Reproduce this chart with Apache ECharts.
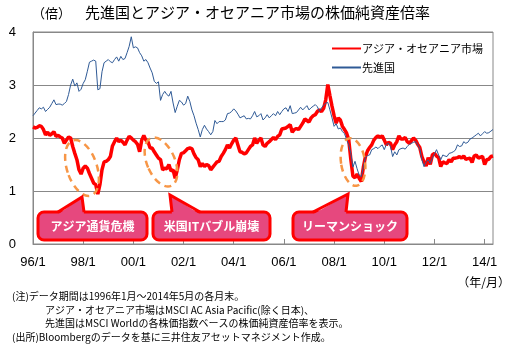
<!DOCTYPE html>
<html><head><meta charset="utf-8">
<script src="https://cdn.jsdelivr.net/npm/echarts@6/dist/echarts.min.js"></script>
<style>html,body{margin:0;padding:0;background:#fff}#c{width:517px;height:359px}</style>
</head><body><div id="c"></div>
<script>
// Monthly end values, 1996/1 .. 2014/5
const startYear = 1996, startMonth = 1, monthCount = 221;
const tickLabels = ['96/1','98/1','00/1','02/1','04/1','06/1','08/1','10/1','12/1','14/1'];
const seriesNames = ['アジア・オセアニア市場', '先進国'];
const asiaPacific = [
 2.21,2.19,2.20,2.23,2.22,2.16,2.06,2.11,2.05,2.08,2.12,2.03, // 1996
 2.05,2.02,2.00,1.90,1.96,2.02,2.00,1.84,1.71,1.59,1.40,1.32, // 1997
 1.43,1.47,1.43,1.33,1.24,1.15,1.12,0.94,1.12,1.40,1.55,1.56, // 1998
 1.59,1.65,1.85,1.93,2.00,1.93,1.96,1.92,1.87,1.96,2.03,2.00, // 1999
 1.96,1.93,1.88,1.74,1.96,2.05,1.96,1.93,1.81,1.81,1.74,1.68, // 2000
 1.62,1.59,1.40,1.43,1.42,1.50,1.38,1.40,1.24,1.40,1.59,1.71, // 2001
 1.72,1.76,1.80,1.81,1.80,1.70,1.63,1.59,1.46,1.52,1.46,1.50, // 2002
 1.48,1.40,1.45,1.50,1.55,1.56,1.65,1.71,1.78,1.87,1.81,1.89, // 2003
 1.96,2.00,1.87,1.74,1.73,1.70,1.72,1.78,1.84,1.87,2.00,1.90, // 2004
 1.96,2.00,1.87,1.84,1.90,1.93,1.97,2.01,1.97,2.03,2.06,2.17, // 2005
 2.18,2.19,2.22,2.25,2.11,2.16,2.18,2.16,2.22,2.28,2.36,2.33, // 2006
 2.30,2.38,2.42,2.44,2.50,2.53,2.50,2.56,2.72,3.01,2.80,2.60, // 2007
 2.42,2.28,2.38,2.34,2.22,2.16,2.09,1.97,1.60,1.28,1.25,1.32, // 2008
 1.24,1.18,1.45,1.65,1.76,1.82,1.87,1.96,2.01,2.04,2.01,2.04, // 2009
 1.96,1.87,1.92,1.90,1.78,1.87,1.93,2.04,1.98,1.98,2.01,1.93, // 2010
 1.90,1.95,2.00,1.96,1.88,1.82,1.65,1.55,1.47,1.63,1.50,1.68, // 2011
 1.71,1.66,1.63,1.46,1.55,1.53,1.52,1.59,1.55,1.62,1.62,1.63, // 2012
 1.65,1.62,1.66,1.60,1.61,1.62,1.54,1.66,1.68,1.62,1.64,1.65, // 2013
 1.50,1.59,1.60,1.65,1.66                                     // 2014
];
const developed = [
 2.42,2.47,2.52,2.57,2.55,2.58,2.50,2.54,2.58,2.65,2.72,2.63, // 1996
 2.64,2.64,2.62,2.65,2.69,2.82,3.00,3.11,2.98,3.04,2.88,2.92, // 1997
 3.03,3.10,3.26,3.43,3.45,3.47,3.45,2.91,2.93,3.25,3.42,3.45, // 1998
 3.48,3.44,3.42,3.48,3.53,3.45,3.54,3.48,3.50,3.61,3.73,3.91, // 1999
 3.70,3.72,3.70,3.61,3.55,3.45,3.48,3.42,3.32,3.23,3.07,3.03, // 2000
 3.06,2.71,2.82,2.88,2.82,2.79,2.88,2.66,2.48,2.60,2.71,2.68, // 2001
 2.62,2.65,2.79,2.69,2.53,2.42,2.28,2.16,2.02,2.16,2.24,2.17, // 2002
 2.12,2.06,2.12,2.33,2.27,2.31,2.31,2.31,2.34,2.46,2.47,2.50, // 2003
 2.55,2.51,2.45,2.38,2.40,2.42,2.36,2.37,2.36,2.42,2.50,2.40, // 2004
 2.42,2.46,2.34,2.38,2.44,2.38,2.42,2.46,2.42,2.50,2.44,2.50, // 2005
 2.55,2.57,2.50,2.61,2.46,2.47,2.48,2.53,2.58,2.53,2.57,2.61, // 2006
 2.53,2.57,2.60,2.63,2.59,2.50,2.57,2.62,2.66,2.67,2.53,2.38, // 2007
 2.22,2.27,2.17,2.19,2.12,2.08,1.97,1.87,1.71,1.45,1.56,1.42, // 2008
 1.30,1.27,1.46,1.63,1.67,1.68,1.78,1.80,1.83,1.80,1.84,1.87, // 2009
 1.78,1.88,1.90,1.84,1.65,1.74,1.68,1.78,1.80,1.81,1.79,1.84, // 2010
 1.88,1.90,1.92,1.93,1.87,1.80,1.59,1.46,1.55,1.59,1.52,1.62, // 2011
 1.70,1.78,1.68,1.59,1.68,1.66,1.65,1.71,1.72,1.74,1.77,1.87, // 2012
 1.84,1.85,1.93,1.90,1.92,1.98,2.00,2.03,2.06,2.09,2.04,2.08, // 2013
 2.12,2.09,2.10,2.13,2.16                                     // 2014
];
const annotations = ['アジア通貨危機', '米国ITバブル崩壊', 'リーマンショック'];
const notes = [
 '(注)データ期間は1996年1月～2014年5月の各月末。',
 'アジア・オセアニア市場はMSCI AC Asia Pacific(除く日本)、',
 '先進国はMSCI Worldの各株価指数ベースの株価純資産倍率を表示。',
 '(出所)Bloombergのデータを基に三井住友アセットマネジメント作成。'
];

const categories = [];
for (let i = 0; i < monthCount; i++) {
  const y = startYear + Math.floor((startMonth - 1 + i) / 12);
  const m = (startMonth - 1 + i) % 12 + 1;
  categories.push(String(y % 100).padStart(2, '0') + '/' + m);
}
const isTick = (idx) => tickLabels.indexOf(categories[idx]) >= 0;

const JP = '"Noto Sans CJK JP", sans-serif';
const NOTE = '"Liberation Sans Narrow", "Noto Sans CJK JP", sans-serif';
const NUM = '"Liberation Sans", Arial, sans-serif';
const PINK = '#E6487E', RED = '#FF0000', ORANGE = '#F79646', BLUE = '#2F5A96';

function callout(box, ptr, text) {
  const [x, y, w, h] = box;
  const [bl, tx, ty, br] = ptr;
  return {
    type: 'group',
    children: [
      { type: 'rect', shape: { x, y, width: w, height: h, r: 6 }, style: { fill: PINK, stroke: RED, lineWidth: 3 }, z: 100 },
      { type: 'polygon', shape: { points: [[bl, y + 2.5], [tx, ty], [br, y + 2.5]] }, style: { fill: PINK }, z: 101 },
      { type: 'polyline', shape: { points: [[bl, y], [tx, ty], [br, y]] }, style: { stroke: RED, lineWidth: 3, fill: null, lineJoin: 'miter' }, z: 102 },
      { type: 'text', x: x + w / 2, y: y + h / 2, style: { text, fill: '#fff', font: 'bold 12px ' + JP, textAlign: 'center', textVerticalAlign: 'middle' }, z: 103 }
    ]
  };
}
function ring(cx, cy, rx, ry, rot) {
  return { type: 'ellipse', x: cx, y: cy, rotation: rot, shape: { cx: 0, cy: 0, rx, ry },
    style: { fill: null, stroke: ORANGE, lineWidth: 2.5, lineDash: [7, 5] }, z: 90 };
}

const chart = echarts.init(document.getElementById('c'), null, { renderer: 'canvas' });
chart.setOption({
  animation: false,
  backgroundColor: '#fff',
  grid: { left: 33, right: 24, top: 32, bottom: 115, show: true, borderColor: '#888', borderWidth: 1 },
  legend: {
    orient: 'vertical', left: 326, top: 38, itemWidth: 29, itemHeight: 12, itemGap: 8,
    itemStyle: { opacity: 0 },
    textStyle: { fontFamily: JP, fontSize: 11, color: '#000', padding: [0, 0, 0, -4] },
    data: seriesNames
  },
  xAxis: {
    type: 'category', data: categories, boundaryGap: false,
    axisLine: { lineStyle: { color: '#888' } },
    axisTick: { inside: true, length: 5, interval: (i) => isTick(i), lineStyle: { color: '#888' } },
    axisLabel: { interval: (i) => isTick(i), color: '#000', fontFamily: NUM, fontSize: 13, margin: 12 }
  },
  yAxis: {
    type: 'value', min: 0, max: 4, interval: 1,
    axisLine: { show: true, lineStyle: { color: '#888' } },
    axisTick: { show: false },
    axisLabel: { color: '#000', fontFamily: NUM, fontSize: 13, margin: 17 },
    splitLine: { lineStyle: { color: '#888' } }
  },
  series: [
    { name: seriesNames[0], type: 'line', data: asiaPacific, showSymbol: false, symbol: 'none',
      lineStyle: { color: RED, width: 3.5 }, itemStyle: { color: RED }, z: 3 },
    { name: seriesNames[1], type: 'line', data: developed, showSymbol: false, symbol: 'none',
      lineStyle: { color: BLUE, width: 1 }, itemStyle: { color: BLUE }, z: 4 }
  ],
  graphic: [
    { type: 'text', left: 32, top: 7, style: { text: '（倍）', font: '13px ' + JP, fill: '#000' } },
    { type: 'text', left: 85, top: 5, style: { text: '先進国とアジア・オセアニア市場の株価純資産倍率', font: '15px ' + JP, fill: '#000' } },
    { type: 'text', right: 7, top: 276, style: { text: '（年/月）', font: '12px ' + JP, fill: '#000' } },
    { type: 'text', left: 12, top: 291, style: { text: notes[0], font: '10px ' + NOTE, fill: '#000' } },
    { type: 'text', left: 45, top: 305, style: { text: notes[1], font: '10px ' + NOTE, fill: '#000' } },
    { type: 'text', left: 45, top: 318, style: { text: notes[2], font: '10px ' + NOTE, fill: '#000' } },
    { type: 'text', left: 12, top: 332, style: { text: notes[3], font: '10px ' + NOTE, fill: '#000' } },
    ring(82, 168, 15, 29, 0.32),
    ring(161, 162, 14, 26, 0.4),
    ring(353, 162, 12, 24, 0.15),
    callout([38, 212, 109, 28], [58, 82, 197, 84], annotations[0]),
    callout([153, 212, 117, 28], [172, 170, 195, 200], annotations[1]),
    callout([293, 212, 114, 28], [313, 348, 194, 346], annotations[2])
  ]
});
</script></body></html>
